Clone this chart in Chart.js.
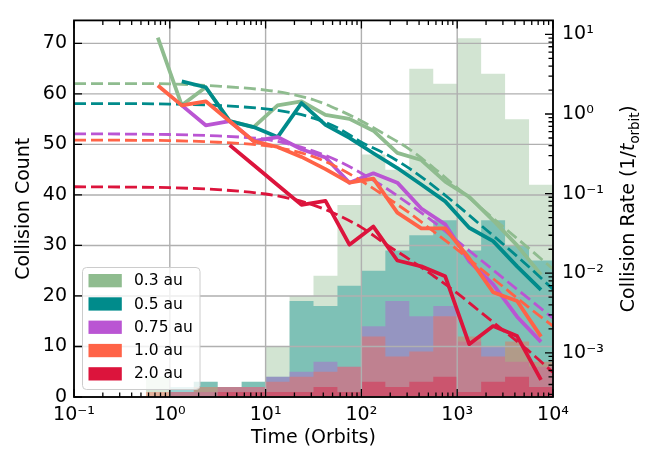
<!DOCTYPE html>
<html>
<head>
<meta charset="utf-8">
<script src="https://cdn.jsdelivr.net/npm/chart.js@4.4.1/dist/chart.umd.min.js"></script>
<style>
  html, body { margin: 0; padding: 0; background: #fff; }
  canvas { display: block; }
</style>
</head>
<body>
<canvas id="chart" width="651" height="454"></canvas>
<script>
// histogram bins (orbits), log spaced by quarter decades
const binEdges = [0.5623, 1, 1.778, 3.162, 5.623, 10, 17.78, 31.62, 56.23, 100, 177.8, 316.2, 562.3, 1000, 1778, 3162, 5623, 10000];
const binCenters = [0.7499, 1.334, 2.371, 4.217, 7.499, 13.34, 23.71, 42.17, 74.99, 133.4, 237.1, 421.7, 749.9, 1334, 2371, 4217, 7499];
const fitTimes = [0.1, 0.3162, 1, 3.162, 10, 17.78, 31.62, 56.23, 100, 177.8, 316.2, 562.3, 1000, 1778, 3162, 5623, 10000];

const seriesLabels = ['0.3 au', '0.5 au', '0.75 au', '1.0 au', '2.0 au'];
const seriesColors = ['#8fbc8f', '#008b8b', '#ba55d3', '#ff6347', '#dc143c'];

// collision counts per bin
const countsA03 = [4, 1, 3, 2, 3, 10, 20, 24, 38, 48, 45, 65, 62, 71, 64, 55, 42];
const countsA05 = [0, 2, 3, 2, 3, 4, 19, 18, 22, 25, 29, 32, 35, 29, 35, 30, 27];
const countsA075 = [0, 1, 1, 2, 2, 4, 5, 7, 6, 14, 19, 16, 18, 11, 10, 7, 6];
const countsA10 = [1, 1, 2, 2, 2, 3, 4, 5, 6, 12, 8, 9, 16, 12, 8, 11, 7];
const countsA20 = [0, 0, 0, 1, 1, 1, 1, 2, 1, 3, 2, 3, 4, 1, 3, 4, 2];

// collision rate per bin (1/t_orbit)
const rateA03 = [9.139, 1.285, 2.168, 0.8127, 0.6854, 1.285, 1.445, 0.9752, 0.8682, 0.6167, 0.3251, 0.2641, 0.1417, 0.09122, 0.04624, 0.02235, 0.009596];
const rateA05 = [null, 2.570, 2.168, 0.8127, 0.6854, 0.5139, 1.373, 0.7314, 0.5026, 0.3212, 0.2095, 0.1300, 0.07996, 0.03726, 0.02529, 0.01219, 0.006169];
const rateA075 = [null, 1.285, 0.7225, 0.8127, 0.4569, 0.5139, 0.3613, 0.2844, 0.1371, 0.1799, 0.1373, 0.06501, 0.04112, 0.01413, 0.007225, 0.002844, 0.001371];
const rateA10 = [2.285, 1.285, 1.445, 0.8127, 0.4569, 0.3855, 0.2890, 0.2032, 0.1371, 0.1542, 0.05780, 0.03657, 0.03655, 0.01542, 0.005780, 0.004470, 0.001599];
const rateA20 = [null, null, null, 0.4063, 0.2285, 0.1285, 0.07225, 0.08127, 0.02285, 0.03855, 0.01445, 0.01219, 0.009139, 0.001285, 0.002168, 0.001625, 0.000457];

// fitted rate curves (dashed)
const fitA03 = [2.415, 2.415, 2.39, 2.24, 2.00, 1.79, 1.51, 1.143, 0.818, 0.552, 0.363, 0.213, 0.1185, 0.0659, 0.0366, 0.0204, 0.0113];
const fitA05 = [1.352, 1.352, 1.334, 1.28, 1.16, 1.052, 0.889, 0.672, 0.4418, 0.3155, 0.2075, 0.1254, 0.0716, 0.0398, 0.0221, 0.01197, 0.00629];
const fitA075 = [0.5635, 0.5604, 0.5526, 0.530, 0.4805, 0.4178, 0.3434, 0.2596, 0.1805, 0.1186, 0.0737, 0.04455, 0.02545, 0.01455, 0.00831, 0.00475, 0.00272];
const fitA10 = [0.4712, 0.4685, 0.4634, 0.4418, 0.4005, 0.3532, 0.2904, 0.2135, 0.1443, 0.0922, 0.05731, 0.03368, 0.01979, 0.01131, 0.00646, 0.00369, 0.00217];
const fitA20 = [0.1220, 0.1210, 0.1186, 0.1122, 0.0989, 0.0872, 0.0717, 0.0542, 0.03766, 0.02341, 0.01496, 0.00930, 0.00562, 0.00321, 0.001835, 0.001049, 0.000567];

const countTicks = [0, 10, 20, 30, 40, 50, 60, 70];

const countsList = [countsA03, countsA05, countsA075, countsA10, countsA20];
const ratesList = [rateA03, rateA05, rateA075, rateA10, rateA20];
const fitsList = [fitA03, fitA05, fitA075, fitA10, fitA20];

const FONT = 'DejaVu Sans';
const X_MIN = 0.1, X_MAX = 10000;
const Y_MAX = 74.55;
const R_MIN = 2.786e-4, R_MAX = 15.0;

const SUP = { '-': '\u207B', '0': '\u2070', '1': '\u00B9', '2': '\u00B2', '3': '\u00B3', '4': '\u2074',
  '5': '\u2075', '6': '\u2076', '7': '\u2077', '8': '\u2078', '9': '\u2079' };

function isDecade(v) {
  const l = Math.log10(v);
  return Math.abs(l - Math.round(l)) < 1e-6;
}
function powLabel(v) {
  const e = String(Math.round(Math.log10(v)));
  return '10' + e.split('').map(c => SUP[c]).join('');
}
function logTicks(min, max) {
  const out = [];
  for (let k = Math.floor(Math.log10(min)); k <= Math.ceil(Math.log10(max)); k++) {
    for (let m = 1; m <= 9; m++) {
      const v = m * Math.pow(10, k);
      if (v >= min * 0.9999 && v <= max * 1.0001) out.push(v);
    }
  }
  return out;
}
function withAlpha(hex, a) {
  const n = parseInt(hex.slice(1), 16);
  return `rgba(${(n >> 16) & 255}, ${(n >> 8) & 255}, ${n & 255}, ${a})`;
}

const xTickValues = logTicks(X_MIN, X_MAX);
const rTickValues = logTicks(R_MIN, R_MAX);

const datasets = [];
countsList.forEach((counts, i) => {
  datasets.push({
    label: seriesLabels[i],
    data: binEdges.map((e, j) => ({ x: e, y: counts[Math.min(j, counts.length - 1)] })),
    xAxisID: 'x',
    yAxisID: 'y',
    stepped: true,
    fill: 'origin',
    backgroundColor: withAlpha(seriesColors[i], 0.4),
    borderColor: 'rgba(0,0,0,0)',
    borderWidth: 0,
    pointRadius: 0,
    order: 20 - i,
    isLastHist: i === countsList.length - 1
  });
});
ratesList.forEach((rates, i) => {
  datasets.push({
    label: seriesLabels[i] + ' rate',
    data: binCenters.map((c, j) => ({ x: c, y: rates[j] })),
    xAxisID: 'x',
    yAxisID: 'y2',
    borderColor: seriesColors[i],
    borderWidth: 3.8,
    borderJoinStyle: 'round',
    pointRadius: 0,
    tension: 0,
    fill: false,
    order: 10 - 2 * i
  });
  datasets.push({
    label: seriesLabels[i] + ' fit',
    data: fitTimes.map((t, j) => ({ x: t, y: fitsList[i][j] })),
    xAxisID: 'x',
    yAxisID: 'y2',
    borderColor: seriesColors[i],
    borderWidth: 2.8,
    borderDash: [12, 5],
    pointRadius: 0,
    cubicInterpolationMode: 'monotone',
    fill: false,
    order: 9 - 2 * i
  });
});

// grid above the histograms, frame, inward ticks, legend, right title
const decor = {
  id: 'decor',
  afterDatasetDraw(chart, args) {
    if (!chart.data.datasets[args.index].isLastHist) return;
    const { ctx, chartArea: a, scales } = chart;
    ctx.save();
    ctx.strokeStyle = '#b0b0b0';
    ctx.lineWidth = 1.4;
    ctx.beginPath();
    xTickValues.filter(isDecade).forEach(v => {
      const px = scales.x.getPixelForValue(v);
      ctx.moveTo(px, a.top); ctx.lineTo(px, a.bottom);
    });
    countTicks.forEach(v => {
      const py = scales.y.getPixelForValue(v);
      ctx.moveTo(a.left, py); ctx.lineTo(a.right, py);
    });
    ctx.stroke();
    ctx.restore();
  },
  afterDraw(chart) {
    const { ctx, chartArea: a, scales } = chart;
    ctx.save();
    // ticks pointing inwards
    ctx.strokeStyle = '#000';
    ctx.lineWidth = 1.3;
    ctx.beginPath();
    xTickValues.forEach(v => {
      const px = scales.x.getPixelForValue(v);
      const len = isDecade(v) ? 8 : 4.5;
      ctx.moveTo(px, a.bottom); ctx.lineTo(px, a.bottom - len);
      ctx.moveTo(px, a.top); ctx.lineTo(px, a.top + len);
    });
    countTicks.forEach(v => {
      const py = scales.y.getPixelForValue(v);
      ctx.moveTo(a.left, py); ctx.lineTo(a.left + 8, py);
    });
    rTickValues.forEach(v => {
      const py = scales.y2.getPixelForValue(v);
      const len = isDecade(v) ? 8 : 4.5;
      ctx.moveTo(a.right, py); ctx.lineTo(a.right - len, py);
    });
    ctx.stroke();
    ctx.lineWidth = 1.8;
    ctx.strokeRect(a.left, a.top, a.right - a.left, a.bottom - a.top);

    // legend
    const lx = 82.5, ly = 267.5, lw = 117.5, lh = 122;
    ctx.beginPath();
    ctx.roundRect(lx, ly, lw, lh, 4);
    ctx.fillStyle = 'rgba(255,255,255,0.8)';
    ctx.fill();
    ctx.lineWidth = 1;
    ctx.strokeStyle = '#cccccc';
    ctx.stroke();
    ctx.font = `15.5px "${FONT}"`;
    ctx.textBaseline = 'middle';
    ctx.textAlign = 'left';
    seriesLabels.forEach((lab, i) => {
      const yc = 280.7 + 23.3 * i;
      ctx.fillStyle = seriesColors[i];
      ctx.fillRect(88.5, yc - 6.7, 33.3, 13.3);
      ctx.fillStyle = '#000';
      ctx.fillText(lab, 134, yc + 0.5);
    });

    // right axis title with subscript
    const parts = [
      { t: 'Collision Rate (1/', f: `19px "${FONT}"`, dy: 0 },
      { t: 't', f: `italic 19px "${FONT}"`, dy: 0 },
      { t: 'orbit', f: `13.3px "${FONT}"`, dy: 4.5 },
      { t: ')', f: `19px "${FONT}"`, dy: 0 }
    ];
    let total = 0;
    parts.forEach(p => { ctx.font = p.f; p.w = ctx.measureText(p.t).width; total += p.w; });
    ctx.translate(627, (a.top + a.bottom) / 2);
    ctx.rotate(-Math.PI / 2);
    ctx.textBaseline = 'alphabetic';
    ctx.fillStyle = '#000';
    let cx = -total / 2;
    parts.forEach(p => {
      ctx.font = p.f;
      ctx.fillText(p.t, cx, 7 + p.dy);
      cx += p.w;
    });
    ctx.restore();
  }
};

const tickFont = { family: FONT, size: 19 };

new Chart(document.getElementById('chart'), {
  type: 'line',
  data: { datasets },
  options: {
    responsive: false,
    animation: false,
    devicePixelRatio: 1,
    layout: { padding: { top: 8, left: 0, right: 0, bottom: 0 }, autoPadding: false },
    plugins: { legend: { display: false }, tooltip: { enabled: false } },
    scales: {
      x: {
        type: 'logarithmic',
        position: 'bottom',
        min: X_MIN,
        max: X_MAX,
        grid: { display: false, drawTicks: false },
        border: { display: false },
        afterBuildTicks: s => { s.ticks = xTickValues.map(v => ({ value: v })); },
        afterFit: s => { s.height = 57; },
        ticks: {
          autoSkip: false, maxRotation: 0, padding: 7, color: '#000', font: tickFont,
          callback: v => (isDecade(v) ? powLabel(v) : '')
        },
        title: { display: true, text: 'Time (Orbits)', color: '#000', font: tickFont, padding: { top: 0, bottom: 5 } }
      },
      y: {
        type: 'linear',
        position: 'left',
        min: 0,
        max: Y_MAX,
        grid: { display: false, drawTicks: false },
        border: { display: false },
        afterBuildTicks: s => { s.ticks = countTicks.map(v => ({ value: v })); },
        afterFit: s => { s.width = 74; },
        ticks: { padding: 7, color: '#000', font: tickFont, callback: v => String(v) },
        title: { display: true, text: 'Collision Count', color: '#000', font: tickFont, padding: { top: 13, bottom: 0 } }
      },
      y2: {
        type: 'logarithmic',
        position: 'right',
        min: R_MIN,
        max: R_MAX,
        grid: { display: false, drawTicks: false },
        border: { display: false },
        afterBuildTicks: s => { s.ticks = rTickValues.map(v => ({ value: v })); },
        afterFit: s => { s.width = 98; },
        ticks: {
          autoSkip: false, padding: 9, color: '#000', font: tickFont,
          callback: v => (isDecade(v) ? powLabel(v) : '')
        }
      }
    }
  },
  plugins: [decor]
});
</script>
</body>
</html>
